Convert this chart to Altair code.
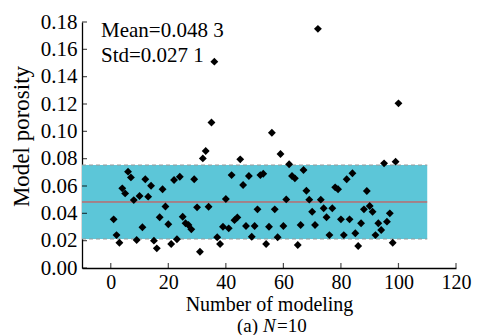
import altair as alt
import pandas as pd

# ---------------- data ----------------
run = list(range(1, 101))
porosity = [
    0.0356, 0.0241, 0.0185, 0.0583, 0.0546, 0.0705, 0.0663, 0.0497, 0.0205, 0.0527,
    0.0298, 0.0649, 0.0522, 0.0602, 0.0200, 0.0144, 0.0371, 0.0576, 0.0450, 0.0320,
    0.0176, 0.0644, 0.0210, 0.0668, 0.0375, 0.0327, 0.0315, 0.0283, 0.0649, 0.0444,
    0.0119, 0.0802, 0.0856, 0.0448, 0.1065, 0.1510, 0.0225, 0.0176, 0.0302, 0.0505,
    0.0290, 0.0680, 0.0350, 0.0370, 0.0795, 0.0607, 0.0307, 0.0673, 0.0229, 0.0307,
    0.0429, 0.0680, 0.0690, 0.0176, 0.0302, 0.0990, 0.0429, 0.0225, 0.0834, 0.0307,
    0.0502, 0.0759, 0.0673, 0.0656, 0.0168, 0.0315, 0.0717, 0.0565, 0.0500, 0.0412,
    0.0315, 0.1750, 0.0500, 0.0437, 0.0371, 0.0241, 0.0437, 0.0590, 0.0576, 0.0356,
    0.0241, 0.0649, 0.0356, 0.0693, 0.0254, 0.0161, 0.0327, 0.0429, 0.0563, 0.0454,
    0.0412, 0.0241, 0.0327, 0.0278, 0.0766, 0.0339, 0.0400, 0.0185, 0.0778, 0.1205,
]
mean_val = 0.0483
std_val = 0.0271
band_x = [-10, 110]
x_ticks = [0, 20, 40, 60, 80, 100, 120]
y_ticks = [0.00, 0.02, 0.04, 0.06, 0.08, 0.10, 0.12, 0.14, 0.16, 0.18]
stat_labels = ["Mean=0.048 3", "Std=0.027 1"]
x_title = "Number of modeling"
y_title = "Model porosity"
sub_parts = ["(a)", "N", "=10"]

# ---------------- style ----------------
FONT = "'Liberation Serif', 'Times New Roman', Times, serif"
W, H = 374, 246
CYAN = "#5cc6d8"
FS = 21

xscale = alt.Scale(domain=[-10, 120], nice=False, zero=False)
yscale = alt.Scale(domain=[0, 0.18], nice=False, zero=False)

xaxis = alt.Axis(
    values=x_ticks, format="d", title=x_title, ticks=False, tickSize=0,
    grid=False, labelFont=FONT, labelFontSize=20, labelColor="black",
    labelPadding=4, labelFlush=False, labelOverlap=False,
    titleFont=FONT, titleFontSize=20, titleFontWeight="normal", titleColor="black",
    titleY=42, titleBaseline="alphabetic",
    domainColor="black", domainWidth=1.3,
)
yaxis = alt.Axis(
    values=y_ticks, format=".2f", title=y_title, ticks=False, tickSize=0,
    grid=False, labelFont=FONT, labelFontSize=FS, labelColor="black",
    labelPadding=5, labelOverlap=False,
    titleFont=FONT, titleFontSize=23, titleFontWeight="normal", titleColor="black",
    titleX=-61, titleY=114, titleBaseline="middle", titleAlign="center", titleAngle=-90,
    domainColor="black", domainWidth=1.3,
)

band_df = pd.DataFrame({
    "x": [band_x[0]], "x2": [band_x[1]],
    "lo": [mean_val - std_val], "hi": [mean_val + std_val],
})
edge_df = pd.DataFrame({
    "x": [band_x[0], band_x[0]], "x2": [band_x[1], band_x[1]],
    "y": [mean_val - std_val, mean_val + std_val],
})
mean_df = pd.DataFrame({"x": [band_x[0]], "x2": [band_x[1]], "y": [mean_val]})
pts_df = pd.DataFrame({"run": run, "porosity": porosity})

band = alt.Chart(band_df).mark_rect(color=CYAN).encode(
    x=alt.X("x:Q", scale=xscale, axis=xaxis), x2="x2:Q",
    y=alt.Y("lo:Q", scale=yscale, axis=yaxis), y2="hi:Q",
)
edges = alt.Chart(edge_df).mark_rule(color="#999999", strokeDash=[4, 3], strokeWidth=1.1).encode(
    x=alt.X("x:Q", scale=xscale, axis=xaxis), x2="x2:Q",
    y=alt.Y("y:Q", scale=yscale, axis=yaxis),
)
mean_line = alt.Chart(mean_df).mark_rule(color="#e8413c", strokeWidth=1).encode(
    x=alt.X("x:Q", scale=xscale, axis=xaxis), x2="x2:Q",
    y=alt.Y("y:Q", scale=yscale, axis=yaxis),
)
points = alt.Chart(pts_df).mark_point(
    shape="diamond", filled=True, color="black", size=62, opacity=1
).encode(
    x=alt.X("run:Q", scale=xscale, axis=xaxis),
    y=alt.Y("porosity:Q", scale=yscale, axis=yaxis),
)

ytick_marks = alt.Chart(pd.DataFrame({"v": y_ticks})).mark_tick(
    orient="horizontal", size=5, thickness=1.2, color="black"
).encode(y=alt.Y("v:Q", scale=yscale, axis=yaxis), x=alt.value(2.5))
xtick_marks = alt.Chart(pd.DataFrame({"v": x_ticks})).mark_tick(
    orient="vertical", size=5, thickness=1.2, color="black"
).encode(x=alt.X("v:Q", scale=xscale, axis=xaxis), y=alt.value(H - 2.5))

txt_mean = alt.Chart(pd.DataFrame({"t": [stat_labels[0]]})).mark_text(
    align="left", baseline="alphabetic", font=FONT, fontSize=FS, color="black"
).encode(x=alt.value(19), y=alt.value(15), text="t:N")
txt_std = alt.Chart(pd.DataFrame({"t": [stat_labels[1]]})).mark_text(
    align="left", baseline="alphabetic", font=FONT, fontSize=FS, color="black"
).encode(x=alt.value(19), y=alt.value(40), text="t:N")

SUB_Y = 310
SUB_FS = 19
sub_a = alt.Chart(pd.DataFrame({"t": [sub_parts[0]]})).mark_text(
    align="right", baseline="alphabetic", font=FONT, fontSize=SUB_FS, color="black"
).encode(x=alt.value(176), y=alt.value(SUB_Y), text="t:N")
sub_n = alt.Chart(pd.DataFrame({"t": [sub_parts[1]]})).mark_text(
    align="left", baseline="alphabetic", font=FONT, fontSize=SUB_FS, fontStyle="italic", color="black"
).encode(x=alt.value(181), y=alt.value(SUB_Y), text="t:N")
sub_10 = alt.Chart(pd.DataFrame({"t": [sub_parts[2]]})).mark_text(
    align="left", baseline="alphabetic", font=FONT, fontSize=SUB_FS, color="black"
).encode(x=alt.value(195), y=alt.value(SUB_Y), text="t:N")

chart = alt.layer(
    band, edges, mean_line, points, ytick_marks, xtick_marks,
    txt_mean, txt_std, sub_a, sub_n, sub_10,
).properties(
    width=W, height=H,
    autosize=alt.AutoSizeParams(type="none"),
    padding={"left": 82, "top": 22, "right": 21, "bottom": 67},
    background="white",
).configure_view(stroke=None)

chart.save("out.html", embed_options={"renderer": "svg", "actions": False})
